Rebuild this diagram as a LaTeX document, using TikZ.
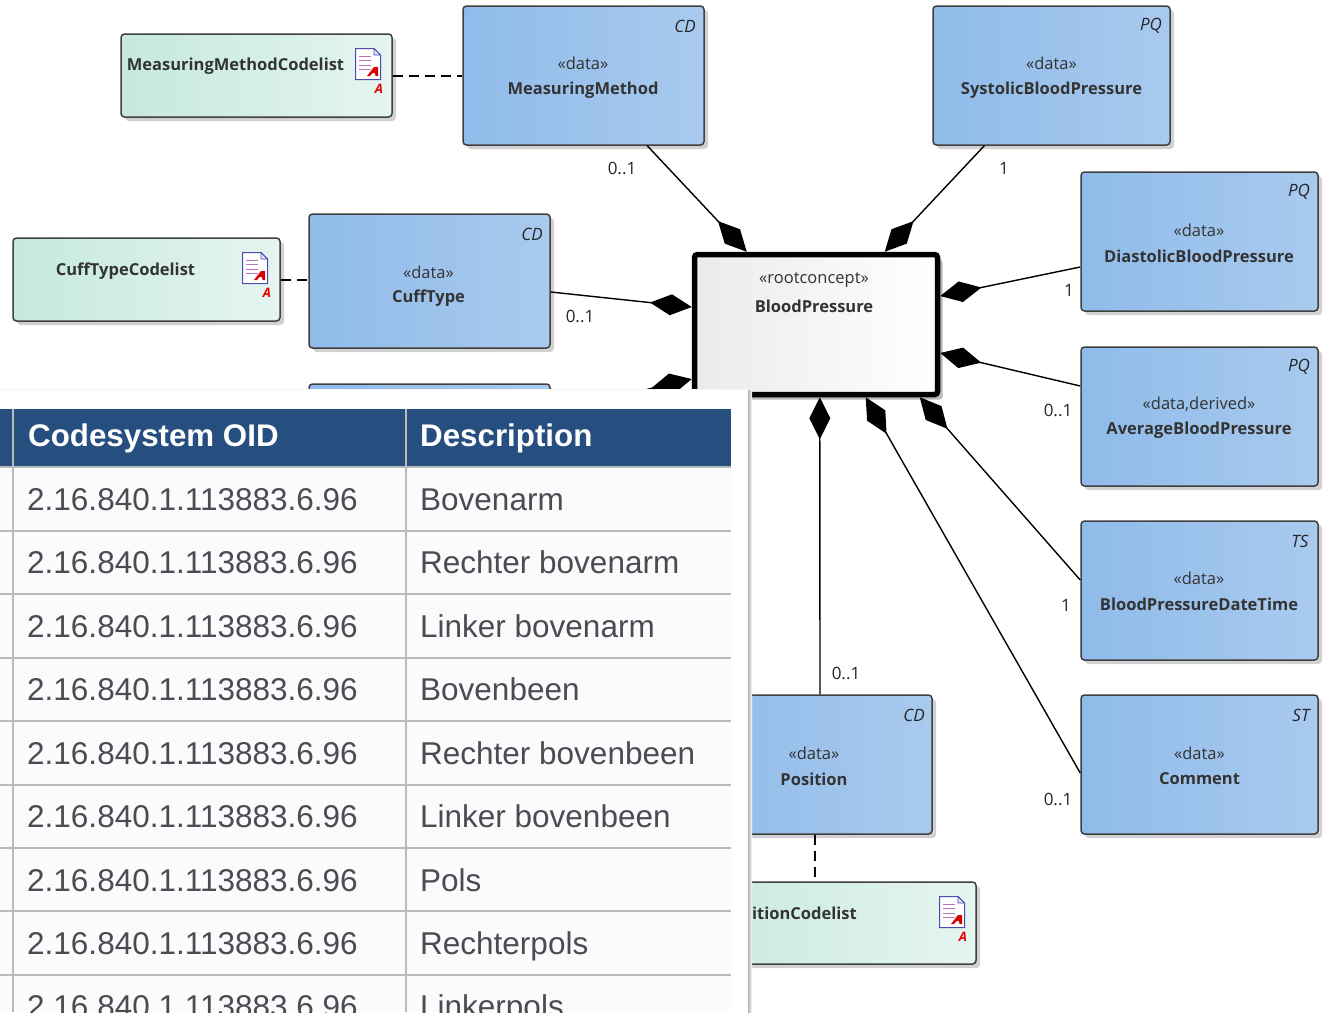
\documentclass[tikz,border=0pt]{standalone}
\usepackage{fontspec}
\setmainfont{Liberation Sans}
\newfontfamily\dgfont{Open Sans}
\usetikzlibrary{arrows.meta,calc,shadows}
\definecolor{hdr}{HTML}{264F80}
\definecolor{rowbg}{HTML}{FAFBFD}
\definecolor{rule}{HTML}{B8BABC}
\definecolor{celltext}{HTML}{4A4C50}
\tikzset{
  x=1pt,y=-1pt,
  boxbase/.style={draw=black!75,line width=1.5pt,rounded corners=3.5pt,inner sep=0pt,
    general shadow={shadow xshift=4pt,shadow yshift=-4pt,fill=black!18}},
  bluebox/.style={boxbase,left color=blue1,right color=blue2},
  greenbox/.style={boxbase,left color=green1,right color=green2},
  rootbox/.style={draw=black,line width=5.5pt,rounded corners=3pt,left color=black!8,right color=white,
    inner sep=0pt,general shadow={shadow xshift=5pt,shadow yshift=-5pt,fill=black!28}},
  comp/.style={draw=black,line width=1.4pt,-{Diamond[length=42pt,width=21pt]}},
  dep/.style={draw=black,line width=1.4pt,dash pattern=on 10pt off 6pt},
  stereo/.style={font=\dgfont\fontsize{16.5}{16.5}\selectfont,text=black!80,inner sep=0pt},
  title/.style={font=\dgfont\fontsize{16.5}{16.5}\selectfont\bfseries,text=black!80,inner sep=0pt},
  corner/.style={font=\dgfont\fontsize{17}{17}\selectfont\itshape,text=black!85,inner sep=0pt},
  mult/.style={font=\dgfont\fontsize{17}{17}\selectfont,text=black!85,inner sep=0pt},
  headcell/.style={font=\fontsize{31.3}{31.3}\selectfont\bfseries,text=white,anchor=base west,inner sep=0pt},
  bodycell/.style={font=\fontsize{31.5}{31.5}\selectfont,text=celltext,anchor=base west,inner sep=0pt},
  docicon/.pic={
    \draw[draw=blue!55!black!70,fill=white,line width=1pt]
      (-12.5,-15.5)--(6,-15.5)--(12.5,-9)--(12.5,15.5)--(-12.5,15.5)--cycle;
    \draw[draw=blue!55!black!70,fill=blue!12,line width=.8pt] (6,-15.5)--(6,-9)--(12.5,-9)--cycle;
    \foreach \q in {-8,-3.5,1,5.5}{\draw[draw=violet!55,line width=1pt] (-9,\q)--(3,\q);}
    \fill[red!85!black] (-1,12)--(6,3)--(10,3)--(10,12)--(7.5,12)--(7,9)--(4.5,9)--(2,12)--cycle;
  },
  reda/.style={font=\dgfont\fontsize{13}{13}\selectfont\bfseries\itshape,text=red!90!black,inner sep=0pt},
}
\definecolor{blue1}{HTML}{8FBBEA}
\definecolor{blue2}{HTML}{A9CAEE}
\definecolor{green1}{HTML}{C6E9DC}
\definecolor{green2}{HTML}{E5F5F0}
\begin{document}
\begin{tikzpicture}
\useasboundingbox (0,0) rectangle (1332,1012);
\clip (0,0) rectangle (1332,1012);
\fill[white] (0,0) rectangle (1332,1012);

% boxes
\node[greenbox,minimum width=271pt,minimum height=83pt] (mmc) at (256.5,75.5) {};
\node[bluebox,minimum width=241pt,minimum height=139pt] (mm) at (583.5,75.5) {};
\node[bluebox,minimum width=237pt,minimum height=139pt] (sys) at (1051.5,75.5) {};
\node[greenbox,minimum width=267pt,minimum height=83pt] (cfc) at (146.5,279.5) {};
\node[bluebox,minimum width=241pt,minimum height=134pt] (cf) at (429.5,281) {};
\node[bluebox,minimum width=241pt,minimum height=134pt] (hid) at (429.5,451) {};
\node[rootbox,minimum width=243pt,minimum height=140pt] (root) at (816,324.5) {};
\node[bluebox,minimum width=237pt,minimum height=139pt] (dia) at (1199.5,241.5) {};
\node[bluebox,minimum width=237pt,minimum height=139pt] (avg) at (1199.5,416.5) {};
\node[bluebox,minimum width=237pt,minimum height=139pt] (dt) at (1199.5,590.5) {};
\node[bluebox,minimum width=237pt,minimum height=139pt] (com) at (1199.5,764.5) {};
\node[bluebox,minimum width=236pt,minimum height=139pt] (pos) at (814,764.5) {};
\node[greenbox,minimum width=300pt,minimum height=82pt] (posc) at (826,923) {};

% connectors
\draw[comp] ($(mm.south west)+(185,0)$) -- ($(root.north west)+(55,0)$);
\draw[comp] ($(sys.south west)+(52,0)$) -- ($(root.north west)+(193,0)$);
\draw[comp] (cf.east|-0,292) -- (root.west|-0,307);
\draw[comp] (hid.east|-0,412) -- (root.west|-0,379);
\draw[comp] (dia.west|-0,267) -- (root.east|-0,296);
\draw[comp] (avg.west|-0,386) -- (root.east|-0,353);
\draw[comp] (dt.west|-0,580) -- ($(root.south west)+(228,0)$);
\draw[comp] (com.west|-0,773) -- ($(root.south west)+(174,0)$);
\draw[comp] (pos.north-|820,0) -- ($(root.south west)+(128,0)$);
\draw[dep] (mmc.east|-0,76) -- (mm.west|-0,76);
\draw[dep] (cfc.east|-0,280) -- (cf.west|-0,280);
\draw[dep] (pos.south-|815,0) -- (posc.north-|815,0);

% box labels
\node[title] (mmcT) at (235.5,66) {MeasuringMethodCodelist};
\pic at (368,64) {docicon};
\node[reda] (mmcA) at (379,89) {A};
\node[stereo] (mmS) at (583,63) {«data»};
\node[title] (mmT) at (583,90) {MeasuringMethod};
\node[corner] (mmK) at (685,26) {CD};
\node[stereo] (sysS) at (1051.5,63) {«data»};
\node[title] (sysT) at (1051.5,90) {SystolicBloodPressure};
\node[corner] (sysK) at (1151,26) {PQ};
\node[title] (cfcT) at (125.5,271) {CuffTypeCodelist};
\pic at (255,268) {docicon};
\node[reda] (cfcA) at (267,293) {A};
\node[stereo] (cfS) at (428.5,272) {«data»};
\node[title] (cfT) at (428.5,298.5) {CuffType};
\node[corner] (cfK) at (532,234) {CD};
\node[stereo] (rootS) at (814,280) {«rootconcept»};
\node[title] (rootT) at (814,306) {BloodPressure};
\node[stereo] (diaS) at (1199,230) {«data»};
\node[title] (diaT) at (1199,256) {DiastolicBloodPressure};
\node[corner] (diaK) at (1299,192) {PQ};
\node[stereo] (avgS) at (1199,404) {«data,derived»};
\node[title] (avgT) at (1199,430.5) {AverageBloodPressure};
\node[corner] (avgK) at (1299,367) {PQ};
\node[stereo] (dtS) at (1199,578) {«data»};
\node[title] (dtT) at (1199,604) {BloodPressureDateTime};
\node[corner] (dtK) at (1300,541) {TS};
\node[stereo] (comS) at (1199.5,753) {«data»};
\node[title] (comT) at (1199.5,779) {Comment};
\node[corner] (comK) at (1301,715) {ST};
\node[stereo] (posS) at (814,753) {«data»};
\node[title] (posT) at (814,779) {Position};
\node[corner] (posK) at (914,715) {CD};
\node[title,anchor=east] (poscT) at (857,913) {PositionCodelist};
\pic at (952,912) {docicon};
\node[reda] (poscA) at (963,937) {A};

% multiplicities
\node[mult] (m1) at (622,168) {0..1};
\node[mult] (m2) at (1004,168) {1};
\node[mult] (m3) at (580,316) {0..1};
\node[mult] (m4) at (1069,290) {1};
\node[mult] (m5) at (1058,410) {0..1};
\node[mult] (m6) at (1066,605) {1};
\node[mult] (m7) at (846,673) {0..1};
\node[mult] (m8) at (1058,799) {0..1};

% table overlay
\fill[black!4] (0,389) rectangle (750,391);
\shade[left color=black!30,right color=white] (748,390) rectangle (752,1012);
\fill[white] (0,390) rectangle (748,1012);
\fill[rowbg] (0,467) rectangle (731,1012);
\fill[hdr] (0,409) rectangle (731,467);
\foreach \b in {467,531,594,658,721,785,848,911,975}{
  \draw[rule,line width=1.6pt] (0,\b) -- (731,\b);
}
\foreach \c in {13,406}{
  \draw[rule,line width=1.4pt] (\c,409) -- (\c,1012);
}
\node[headcell] (hOID) at (28,446.5) {Codesystem OID};
\node[headcell] (hDesc) at (420,446.5) {Description};
\foreach \i/\b/\t in {1/510/Bovenarm,2/573.5/Rechter bovenarm,3/637/Linker bovenarm,4/700.5/Bovenbeen,5/764/Rechter bovenbeen,6/827.5/Linker bovenbeen,7/891/Pols,8/954/Rechterpols,9/1017.5/Linkerpols}{
  \node[bodycell] (oid\i) at (27,\b) {2.16.840.1.113883.6.96};
  \node[bodycell] (desc\i) at (420,\b) {\t};
}
\end{tikzpicture}
\end{document}
